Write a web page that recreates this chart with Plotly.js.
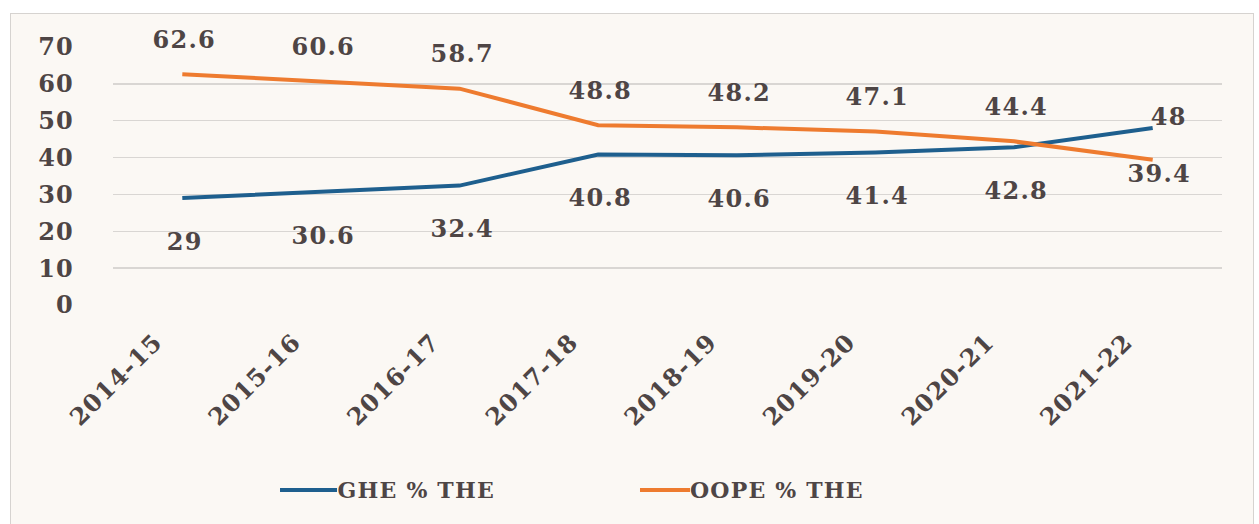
<!DOCTYPE html>
<html>
<head>
<meta charset="utf-8">
<script src="https://cdn.plot.ly/plotly-3.0.1.min.js"></script>
<style>
  html, body { margin: 0; padding: 0; background: #ffffff; width: 1259px; height: 524px; overflow: hidden; }
  #panel { position: absolute; left: 10px; top: 13px; width: 1244px; height: 520px;
           background: #FBF8F4; border: 1px solid #D6D3D0; box-sizing: border-box; }
  #chart { position: absolute; left: 0; top: 0; width: 1259px; height: 524px; }
  #chart text { letter-spacing: 1.2px; }
</style>
</head>
<body>
<div id="panel"></div>
<div id="chart"></div>
<script>
const categories = ['2014-15','2015-16','2016-17','2017-18','2018-19','2019-20','2020-21','2021-22'];
const gheValues  = [29, 30.6, 32.4, 40.8, 40.6, 41.4, 42.8, 48];
const oopeValues = [62.6, 60.6, 58.7, 48.8, 48.2, 47.1, 44.4, 39.4];
const seriesNames = ['GHE % THE', 'OOPE % THE'];
const yTicks = [0, 10, 20, 30, 40, 50, 60, 70];

const textColor = '#4E4545';
const fontFam = '"DejaVu Serif", "Liberation Serif", serif';
const blue = '#1E5F8E';
const orange = '#EE7B2F';
const colors = [blue, orange];

const traces = [
  { x: categories, y: gheValues, name: seriesNames[0], type: 'scatter', mode: 'lines',
    line: { color: blue, width: 4 } },
  { x: categories, y: oopeValues, name: seriesNames[1], type: 'scatter', mode: 'lines',
    line: { color: orange, width: 4 } }
];

const lblFont = { family: fontFam, size: 24, color: textColor, weight: 'bold' };
const annotations = [];
categories.forEach((c, i) => {
  const gheTop = gheValues[i] > oopeValues[i];
  // normal case: OOPE above its line, GHE below; after the lines cross the labels sit close
  annotations.push({ x: c, y: gheValues[i], text: String(gheValues[i]), showarrow: false,
    xshift: gheTop ? 16 : 2, yshift: gheTop ? 12 : -43, font: lblFont });
  annotations.push({ x: c, y: oopeValues[i], text: String(oopeValues[i]), showarrow: false,
    xshift: gheTop ? 6 : 2, yshift: gheTop ? -14 : 35, font: lblFont });
});

// custom legend (longer line keys, as in the reference)
const legendFont = { family: fontFam, size: 22, color: textColor, weight: 'bold' };
const legendKeys = [[0.1506, 0.2020], [0.4752, 0.5203]];
const legendY = -0.717;
const shapes = [];
seriesNames.forEach((n, k) => {
  shapes.push({ type: 'line', xref: 'paper', yref: 'paper',
    x0: legendKeys[k][0], x1: legendKeys[k][1], y0: legendY, y1: legendY,
    line: { color: colors[k], width: 4 } });
  annotations.push({ xref: 'paper', yref: 'paper', x: legendKeys[k][1] + 0.004, y: legendY,
    xanchor: 'left', yanchor: 'middle', text: n, showarrow: false, font: legendFont });
});

const layout = {
  width: 1259, height: 524,
  margin: { l: 113, r: 37, t: 47, b: 219 },
  paper_bgcolor: 'rgba(0,0,0,0)',
  plot_bgcolor: 'rgba(0,0,0,0)',
  showlegend: false,
  xaxis: { type: 'category', range: [-0.5, categories.length - 0.5], tickangle: -45,
    showgrid: false, zeroline: false, showline: false,
    ticks: '', ticklabelstandoff: 17, ticklabelshift: -27,
    tickfont: { family: fontFam, size: 24, color: textColor, weight: 'bold' } },
  yaxis: { range: [0, 70], tickvals: yTicks, showgrid: true, gridcolor: '#D9D6D3', gridwidth: 1.5,
    zeroline: false, showline: false, ticks: '', ticklabelstandoff: 38,
    tickfont: { family: fontFam, size: 24, color: textColor, weight: 'bold' } },
  annotations: annotations,
  shapes: shapes,
  font: { family: fontFam, color: textColor }
};

Plotly.newPlot('chart', traces, layout, { displayModeBar: false, staticPlot: true });
</script>
</body>
</html>
